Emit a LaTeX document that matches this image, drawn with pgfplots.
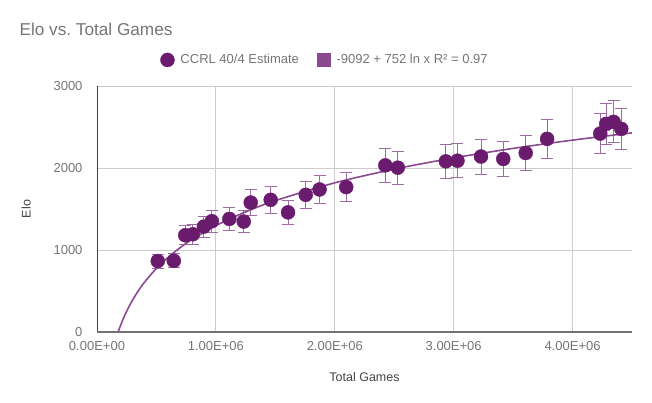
\documentclass[border=0pt]{standalone}
\usepackage{pgfplots}
\pgfplotsset{compat=1.18}
\usepackage{fontspec}
\setmainfont{Liberation Sans}
\definecolor{dotcol}{HTML}{6A1B6E}
\definecolor{fitcol}{HTML}{8A4A90}
\definecolor{errcol}{HTML}{9C6CA2}
\definecolor{txtgray}{HTML}{757575}
\definecolor{lblgray}{HTML}{444444}
\definecolor{gridgray}{HTML}{CCCCCC}
\begin{document}
\begin{tikzpicture}
\useasboundingbox (0,0) rectangle (652pt,402pt);
\node[anchor=west, text=txtgray, font=\fontsize{17.2pt}{21pt}\selectfont] at (16pt,373pt) {Elo vs.\ Total Games};
\begin{axis}[
  at={(97pt,70pt)}, anchor=south west,
  scale only axis, width=535pt, height=246pt,
  xmin=0, xmax=4.5e6, ymin=0, ymax=3000,
  xtick={0,1e6,2e6,3e6,4e6},
  xticklabels={0.00E+00,1.00E+06,2.00E+06,3.00E+06,4.00E+06},
  ytick={0,1000,2000,3000},
  yticklabels={0,1000,2000,3000},
  scaled x ticks=false,
  tick label style={text=txtgray, font=\fontsize{13pt}{15pt}\selectfont},
  xticklabel style={yshift=-6pt},
  yticklabel style={xshift=-11pt},
  grid=major, grid style={gridgray, line width=0.8pt},
  axis line style={draw=none},
  tick style={draw=none},
  xlabel={Total Games}, ylabel={Elo},
  label style={text=lblgray, font=\fontsize{12.5pt}{14pt}\selectfont},
  xlabel style={yshift=-15pt},
  ylabel style={yshift=16pt},
  clip=true,
  legend columns=2,
  legend style={draw=none, fill=none, at={(axis description cs:0.43,1.106)}, anchor=center,
    font=\fontsize{13pt}{15pt}\selectfont, text=txtgray,
    nodes={inner xsep=6pt},
    /tikz/every even column/.append style={column sep=12pt}},
]
\draw[black!75, line width=0.9pt] (axis cs:0,0) -- (axis cs:0,3000);
\draw[black!55, line width=1.3pt] (axis cs:0,0) -- (axis cs:4.5e6,0);
\addplot[only marks, mark=*, mark size=7pt, mark options={fill=dotcol, draw=dotcol},
  error bars/.cd, y dir=both, y fixed relative=0.1,
  error bar style={errcol, line width=0.9pt},
  error mark options={rotate=90, mark size=6pt, errcol, line width=0.9pt}]
coordinates {
(0.511e6,865) (0.646e6,868) (0.742e6,1180) (0.806e6,1192) (0.899e6,1285)
(0.966e6,1351) (1.113e6,1379) (1.234e6,1347) (1.293e6,1579) (1.461e6,1612)
(1.607e6,1459) (1.756e6,1673) (1.872e6,1738) (2.096e6,1767) (2.425e6,2032)
(2.530e6,2004) (2.934e6,2081) (3.032e6,2089) (3.230e6,2140) (3.417e6,2110)
(3.606e6,2183) (3.786e6,2355) (4.233e6,2420) (4.283e6,2538) (4.345e6,2563)
(4.410e6,2477)
};
\addlegendentry{CCRL 40/4 Estimate}
\addplot[fitcol, line width=1.6pt, smooth,
  legend image code/.code={\fill[fitcol] (0pt,-6pt) rectangle (12pt,6pt);}]
coordinates {
(0.17815e6,0) (0.19e6,48) (0.2e6,87) (0.22e6,159) (0.25e6,255) (0.3e6,392)
(0.35e6,508) (0.4e6,608) (0.5e6,776) (0.6e6,913) (0.7e6,1029) (0.8e6,1129)
(1.0e6,1297) (1.25e6,1465) (1.5e6,1602) (2.0e6,1819) (2.5e6,1986)
(3.0e6,2123) (3.5e6,2239) (4.0e6,2340) (4.5e6,2428)
};
\addlegendentry{-9092 + 752 ln x R² = 0.97}
\end{axis}
\end{tikzpicture}
\end{document}
